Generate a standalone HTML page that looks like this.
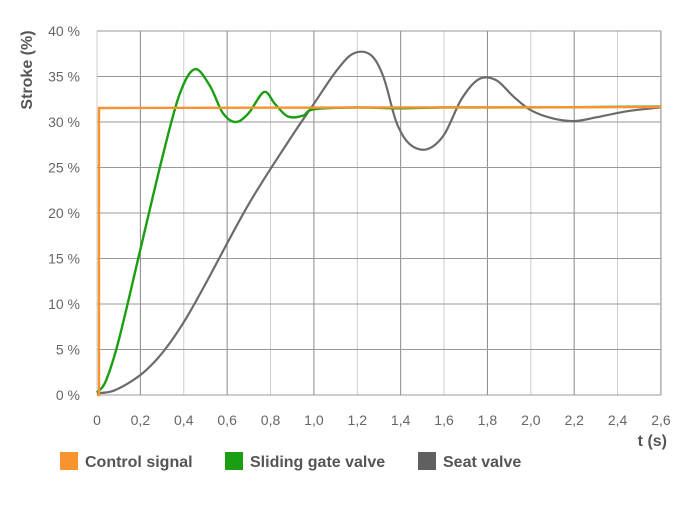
<!DOCTYPE html>
<html><head><style>
body{margin:0;background:#fff;width:687px;height:525px;overflow:hidden;font-family:"Liberation Sans",Arial,sans-serif}
</style></head><body>
<svg id="s" width="687" height="525" xmlns="http://www.w3.org/2000/svg" font-family="Liberation Sans, Arial, sans-serif">
<g id="grid"></g>
<g id="lbl" font-size="14" fill="#666"></g>
<text x="32" y="70" transform="rotate(-90 32 70)" font-size="16" font-weight="bold" fill="#555" text-anchor="middle">Stroke (%)</text>
<text x="667" y="446" font-size="16" font-weight="bold" fill="#555" text-anchor="end">t (s)</text>
<path id="gray" fill="none" stroke="#6b6b6b" stroke-width="2.2"/>
<path id="green" fill="none" stroke="#1a9e12" stroke-width="2.4"/>
<path d="M97,395 L99,395 L99,108 L661,107" fill="none" stroke="#f7942f" stroke-width="2.4"/>
<rect x="60" y="452" width="18" height="18" fill="#f7942f"/>
<text x="85" y="467" font-size="16" font-weight="bold" fill="#555">Control signal</text>
<rect x="225" y="452" width="18" height="18" fill="#1a9e12"/>
<text x="250" y="467" font-size="16" font-weight="bold" fill="#555">Sliding gate valve</text>
<rect x="418" y="452" width="18" height="18" fill="#606060"/>
<text x="443" y="467" font-size="16" font-weight="bold" fill="#555">Seat valve</text>
</svg>
<script>
var X=t=>97+t*216.9, Y=p=>395-p*9.1;
var g='',l='';
for(var i=0;i<=13;i++){var x=X(i*0.2);g+=`<line x1="${x}" y1="31" x2="${x}" y2="395" stroke="${i%2?'#888':'#ccc'}" stroke-width="1"/>`;
l+=`<text x="${x}" y="425" text-anchor="middle">${i==0?'0':(i*0.2).toFixed(1).replace('.',',')}</text>`;}
for(var j=0;j<=8;j++){var y=Y(j*5);g+=`<line x1="97" y1="${y}" x2="661" y2="${y}" stroke="#999" stroke-width="1"/>`;
l+=`<text x="80" y="${y+5}" text-anchor="end">${j*5} %</text>`;}
document.getElementById('grid').innerHTML=g;document.getElementById('lbl').innerHTML=l;
function sm(pts){var p=pts.map(a=>[X(a[0]),Y(a[1])]);var d='M'+p[0];for(var i=0;i<p.length-1;i++){var a=p[i-1]||p[i],b=p[i],c=p[i+1],e=p[i+2]||c;
d+=` C${b[0]+(c[0]-a[0])/6},${b[1]+(c[1]-a[1])/6} ${c[0]-(e[0]-b[0])/6},${c[1]-(e[1]-b[1])/6} ${c[0]},${c[1]}`;}return d;}
document.getElementById('green').setAttribute('d',sm([[0,0.3],[0.04,1.5],[0.1,6],[0.2,16],[0.3,26],[0.38,33],[0.45,35.8],[0.52,34],[0.58,31],[0.64,30],[0.7,31],[0.77,33.3],[0.82,32],[0.88,30.6],[0.95,30.7],[1.0,31.4],[1.2,31.6],[1.4,31.5],[1.6,31.6],[2.0,31.6],[2.6,31.7]]));
document.getElementById('gray').setAttribute('d',sm([[0,0.2],[0.08,0.5],[0.2,2.2],[0.3,4.6],[0.4,8],[0.5,12.2],[0.7,21],[0.9,28.5],[1.0,32],[1.1,35.5],[1.18,37.5],[1.26,37.4],[1.32,35],[1.38,30],[1.44,27.6],[1.52,27],[1.6,28.6],[1.68,32.5],[1.76,34.7],[1.84,34.6],[1.92,32.8],[2.0,31.3],[2.1,30.4],[2.2,30.1],[2.3,30.5],[2.45,31.2],[2.6,31.6]]));
</script>
</body></html>
